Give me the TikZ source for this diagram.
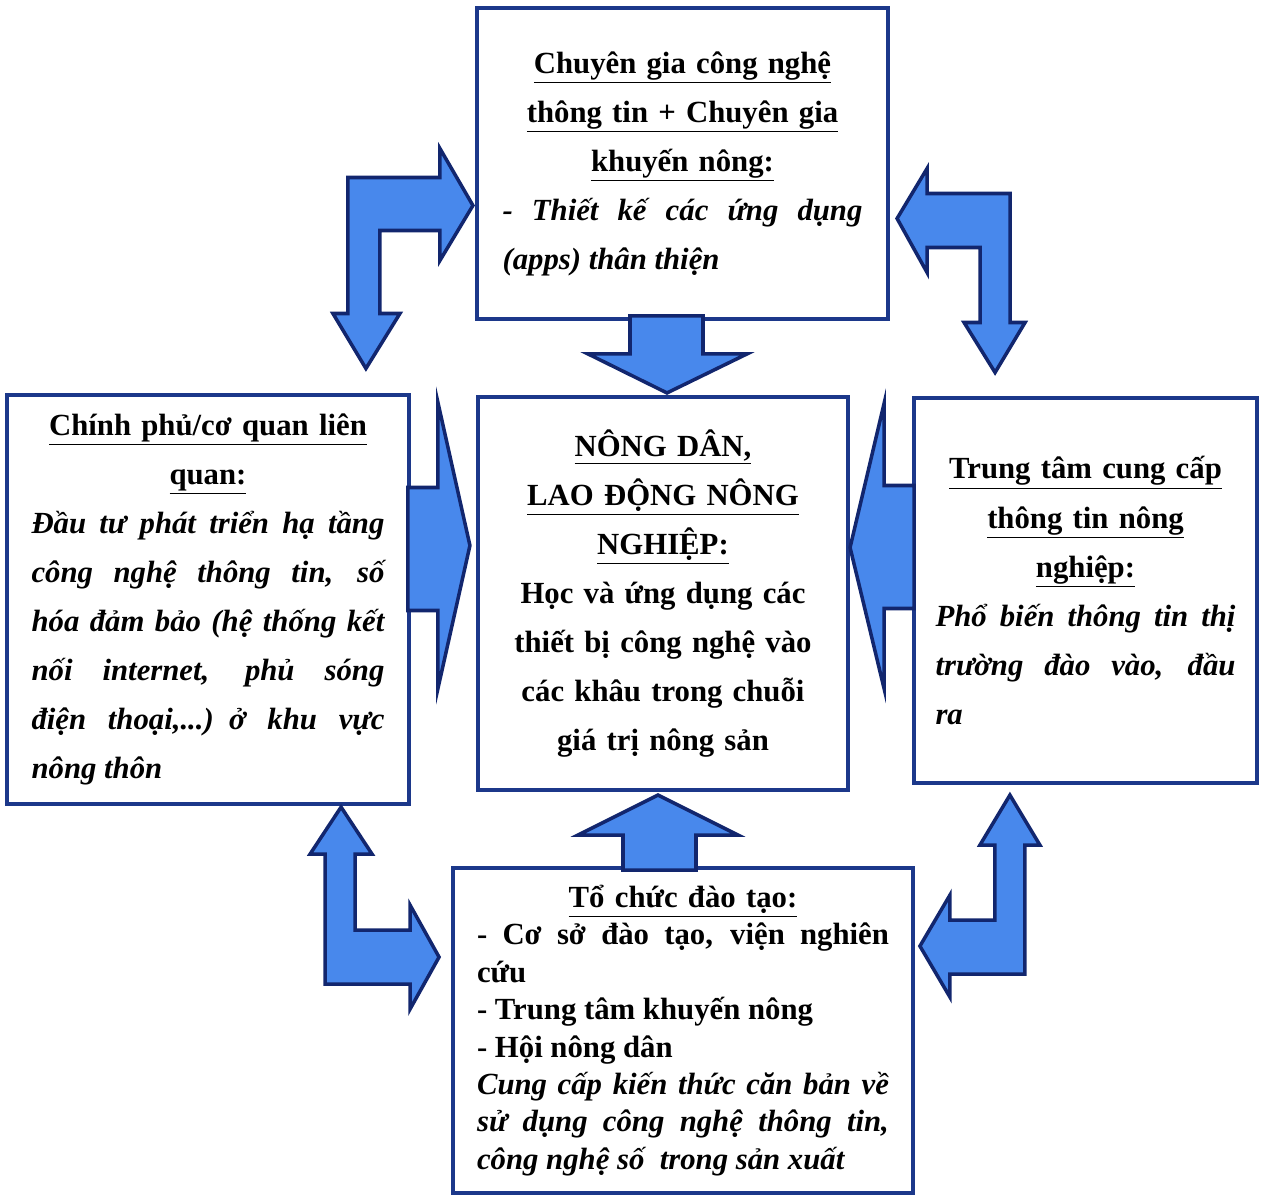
\documentclass[tikz,border=0pt]{standalone}
\usepackage{fontspec}
\setmainfont{Liberation Serif}
\usetikzlibrary{calc}
\definecolor{navy}{RGB}{18,38,110}
\definecolor{boxblue}{RGB}{28,56,138}
\definecolor{arrowblue}{RGB}{72,136,236}
\newcommand{\bd}[1]{\parbox[t]{\linewidth}{\leftskip0pt\rightskip0pt\parfillskip0pt plus1fil\spaceskip.25em plus.8em minus.08em\relax#1}}

\begin{document}
\begin{tikzpicture}[x=0.02cm,y=-0.02cm,
  box/.style={draw=boxblue,line width=2.4pt,fill=white,inner sep=0pt,align=center,font=\bfseries\fontsize{17.5}{27.9}\selectfont},
  fat/.style={draw=navy,line width=2pt,fill=arrowblue,line join=miter}]
      \useasboundingbox (0,0) rectangle (1265,1200);
      \node (top) at (682.5,163.5) [box,minimum width=8.22cm,minimum height=6.22cm,text width=7.2cm] {\underline{Chuyên gia công nghệ}\\\underline{thông tin + Chuyên gia}\\\underline{khuyến nông:}\\\bd{\itshape - Thiết kế các ứng dụng\linebreak (apps) thân thiện}};
      \node (gov) at (208,599.5) [box,minimum width=8.04cm,minimum height=8.18cm,text width=7.06cm] {\underline{Chính phủ/cơ quan liên}\\\underline{quan:}\\\bd{\itshape Đầu tư phát triển hạ tầng\linebreak công nghệ thông tin, số\linebreak hóa đảm bảo (hệ thống kết\linebreak nối internet, phủ sóng\linebreak điện thoại,...) ở khu vực\linebreak nông thôn}};
      \node (mid) at (663,593.5) [box,minimum width=7.4cm,minimum height=7.86cm,text width=6.8cm] {\underline{NÔNG DÂN,}\\\underline{LAO ĐỘNG NÔNG}\\\underline{NGHIỆP:}\\Học và ứng dụng các\\thiết bị công nghệ vào\\các khâu trong chuỗi\\giá trị nông sản};
      \node (info) at (1085.5,590.5) [box,minimum width=6.86cm,minimum height=7.7cm,text width=6cm] {\underline{Trung tâm cung cấp}\\\underline{thông tin nông}\\\underline{nghiệp:}\\\bd{\itshape Phổ biến thông tin thị\linebreak trường đào vào, đầu\linebreak ra}};
      \node (train) at (683,1030.5) [box,minimum width=9.2cm,minimum height=6.5cm,text width=8.24cm,font=\bfseries\fontsize{17.5}{21.3}\selectfont] {\underline{Tổ chức đào tạo:}\\\bd{- Cơ sở đào tạo, viện nghiên\linebreak cứu\par - Trung tâm khuyến nông\par - Hội nông dân\par \itshape Cung cấp kiến thức căn bản về\linebreak sử dụng công nghệ thông tin,\linebreak công nghệ số\ \ trong sản xuất}};
      \draw[fat] ($(mid.north)+(4,-2)$) -- ++(80,-39) -- ++(-44,0) -- ++(0,-38) -- ++(-73,0) -- ++(0,38) -- ++(-42,0) -- cycle;
      \draw[fat] ($(mid.south)+(-5,3)$) -- ++(80,40) -- ++(-42,0) -- ++(0,35) -- ++(-73,0) -- ++(0,-35) -- ++(-45,0) -- cycle;
      \draw[fat] ($(mid.west)+(-6,-48)$) -- ++(-32,143) -- ++(0,-78) -- ++(-30,0) -- ++(0,-123) -- ++(30,0) -- ++(0,-85) -- cycle;
      \draw[fat] ($(mid.east)+(0,-46)$) -- ++(34,-144) -- ++(0,82) -- ++(30,0) -- ++(0,123) -- ++(-30,0) -- ++(0,80) -- cycle;
      \draw[fat] ($(top.west)+(-2,42)$) -- ++(-33,-57) -- ++(0,29) -- ++(-92,0) -- ++(0,136) -- ++(-15,0) -- ++(33,55) -- ++(34,-55) -- ++(-20,0) -- ++(0,-83) -- ++(60,0) -- ++(0,30) -- cycle;
      \draw[fat] ($(top.east)+(7,55)$) -- ++(30,-50) -- ++(0,25) -- ++(83,0) -- ++(0,129) -- ++(15,0) -- ++(-30,50) -- ++(-31,-50) -- ++(16,0) -- ++(0,-75) -- ++(-53,0) -- ++(0,25) -- cycle;
      \draw[fat] ($(gov.south east)+(-70,1)$) -- ++(31,47) -- ++(-17,0) -- ++(0,76) -- ++(55,0) -- ++(0,-25) -- ++(29,52) -- ++(-29,52) -- ++(0,-25) -- ++(-85,0) -- ++(0,-130) -- ++(-15,0) -- cycle;
      \draw[fat] ($(info.south west)+(98,10)$) -- ++(30,50) -- ++(-15,0) -- ++(0,129) -- ++(-75,0) -- ++(0,23) -- ++(-30,-51) -- ++(30,-51) -- ++(0,25) -- ++(45,0) -- ++(0,-75) -- ++(-15,0) -- cycle;
    \end{tikzpicture}
\end{document}
